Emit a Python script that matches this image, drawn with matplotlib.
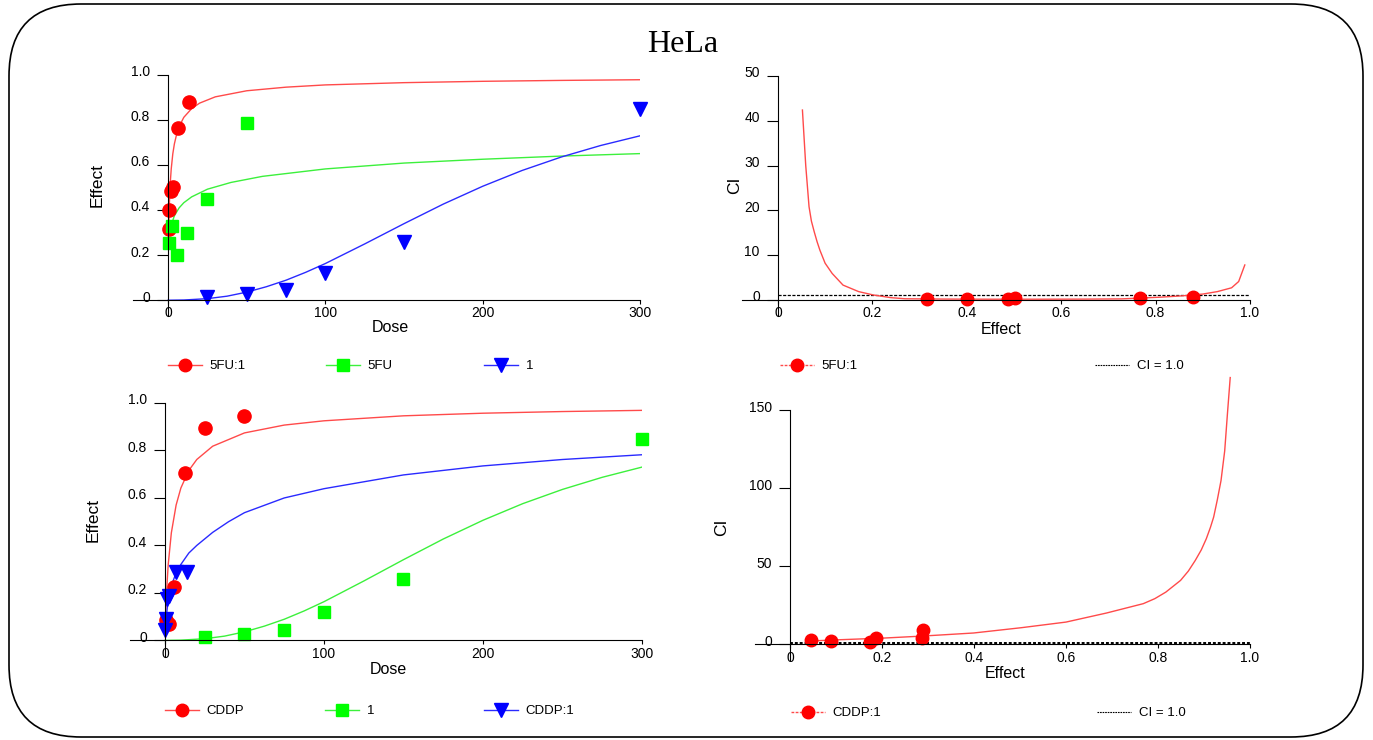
import matplotlib
matplotlib.use("Agg")
import matplotlib.pyplot as plt
from matplotlib.lines import Line2D
from matplotlib.patches import FancyBboxPatch
from matplotlib.transforms import IdentityTransform, ScaledTranslation

plt.rcParams['font.family'] = ['Liberation Sans', 'DejaVu Sans']

W, H = 1373, 740

# 5FU : compound 1 (dose-effect)
fu1_dose = [0.4, 0.8, 1.6, 3.1, 6.3, 13]
fu1_effect = [0.316, 0.40, 0.487, 0.503, 0.766, 0.88]
fu_dose = [0.5, 2.2, 5.5, 12, 25, 50]
fu_effect = [0.255, 0.331, 0.20, 0.297, 0.45, 0.788]
c1_dose = [25, 50, 75, 100, 150, 300]
c1_effect = [0.015, 0.028, 0.045, 0.12, 0.26, 0.85]

fu1_fit_dose = [0.4, 0.6, 1, 1.5, 2, 3, 4, 5.5, 7, 10, 15, 20, 30, 50, 75, 100, 150, 200, 250, 300]
fu1_fit_effect = [0.312, 0.376, 0.463, 0.533, 0.583, 0.650, 0.694, 0.739, 0.771, 0.812,
                  0.851, 0.875, 0.903, 0.930, 0.946, 0.956, 0.966, 0.972, 0.976, 0.979]
fu_fit_dose = [1.5, 2, 4, 7, 10, 15, 25, 40, 60, 100, 150, 200, 250, 300]
fu_fit_effect = [0.316, 0.333, 0.375, 0.410, 0.433, 0.459, 0.493, 0.523, 0.550, 0.583,
                 0.609, 0.626, 0.640, 0.651]
c1_fit_dose = [0, 10, 25, 37.5, 50, 62.5, 75, 87.5, 100, 125, 150, 175, 200, 225, 250, 275, 300]
c1_fit_effect = [0, 0.001, 0.007, 0.018, 0.036, 0.060, 0.089, 0.124, 0.163, 0.250, 0.340,
                 0.427, 0.506, 0.576, 0.636, 0.687, 0.730]

# CDDP : compound 1 (dose-effect)
cddp_dose = [0.5, 2.5, 5.5, 12.5, 25, 50]
cddp_effect = [0.087, 0.07, 0.224, 0.706, 0.895, 0.945]
mix_dose = [0.2, 0.6, 1.4, 2.4, 7, 14]
mix_effect = [0.045, 0.09, 0.175, 0.187, 0.286, 0.29]

cddp_fit_dose = [0.3, 0.5, 1, 2, 4, 7, 10, 15, 20, 30, 50, 75, 100, 150, 200, 250, 300]
cddp_fit_effect = [0.086, 0.126, 0.206, 0.317, 0.453, 0.570, 0.642, 0.716, 0.762, 0.818,
                   0.874, 0.907, 0.925, 0.946, 0.957, 0.964, 0.969]
mix_fit_dose = [0.2, 0.5, 1, 2, 4, 7, 10, 15, 20, 30, 40, 50, 75, 100, 150, 200, 250, 300]
mix_fit_effect = [0.040, 0.070, 0.110, 0.170, 0.230, 0.285, 0.320, 0.368, 0.400, 0.455,
                  0.500, 0.538, 0.600, 0.639, 0.697, 0.735, 0.762, 0.782]

# combination index vs fraction affected
fu1_ci = [0.2, 0.2, 0.25, 0.35, 0.35, 0.6]
ci_fu1_fa = [0.052, 0.059, 0.066, 0.071, 0.077, 0.083, 0.089, 0.100, 0.115, 0.138, 0.171,
             0.202, 0.239, 0.269, 0.35, 0.45, 0.55, 0.65, 0.728, 0.81, 0.856, 0.90, 0.931,
             0.961, 0.976, 0.989]
ci_fu1 = [42.4, 30.0, 20.8, 17.6, 15.2, 13.0, 11.1, 8.2, 5.9, 3.3, 1.85,
          1.1, 0.5, 0.25, 0.18, 0.15, 0.15, 0.17, 0.22, 0.6, 0.9, 1.3, 1.85,
          2.7, 4.1, 7.8]

mix_ci = [2.6, 2.1, 1.5, 4.1, 4.1, 9.0]
ci_mix_fa = [0.039, 0.1, 0.2, 0.286, 0.399, 0.503, 0.600, 0.688, 0.768, 0.793, 0.817,
             0.849, 0.866, 0.881, 0.894, 0.905, 0.914, 0.921, 0.929, 0.937, 0.945, 0.951, 0.957]
ci_mix = [2.1, 2.9, 4.0, 5.3, 7.3, 10.7, 14.3, 20.1, 26.1, 29.3, 33.5,
          41, 47, 53.8, 60.5, 67.7, 75, 81.6, 92.7, 105, 124, 148, 171]

ci_ref = 1.0

RED, GREEN, BLUE = '#ff0000', '#00ff00', '#0000ff'
RED_L, GREEN_L, BLUE_L = '#ff4a4a', '#3cf03c', '#2a2aff'

fig = plt.figure(figsize=(W / 100, H / 100), dpi=100)


def px_axes(x0, y0, x1, y1):
    # axes box given in pixel corners (top-left origin)
    return fig.add_axes([x0 / W, 1 - y1 / H, (x1 - x0) / W, (y1 - y0) / H])


def frame(ax, xlim, ylim, xticks, xlabels, yticks, ylabels, ytop=None):
    ax.set_xlim(*xlim)
    ax.set_ylim(*ylim)
    for s in ('top', 'right'):
        ax.spines[s].set_visible(False)
    ax.spines['left'].set_position(('data', 0))
    ax.spines['bottom'].set_position(('data', 0))
    if ytop is not None:
        ax.spines['left'].set_bounds(ylim[0], ytop)
    ax.set_xticks(xticks, xlabels)
    ax.set_yticks(yticks, ylabels)
    ax.tick_params(axis='y', direction='out', length=8, width=0.8, pad=5, labelsize=10)
    ax.tick_params(axis='x', direction='out', length=3, width=0.8, pad=1.5, labelsize=10)
    ax.patch.set_visible(False)
    shift = ScaledTranslation(0, 3 / 72, fig.dpi_scale_trans)
    for lab in ax.get_yticklabels():
        lab.set_transform(lab.get_transform() + shift)


def label(x, y, s, rot=0, size=11.5):
    fig.text(x / W, 1 - y / H, s, ha='center', va='center', rotation=rot, fontsize=size)


def key(handle, text, x, y):
    fig.legend(handles=[handle], labels=[text], loc='center left',
               bbox_to_anchor=(x / W, 1 - y / H), frameon=False, borderpad=0,
               borderaxespad=0, handlelength=2.6, handletextpad=0.55, fontsize=9.5)


eff_ticks = [0, 0.2, 0.4, 0.6, 0.8, 1.0]
eff_labels = ['0', '0.2', '0.4', '0.6', '0.8', '1.0']
dose_ticks = [0, 100, 200, 300]
dose_labels = ['0', '100', '200', '300']

# top-left: 5FU / compound 1 dose-effect
ax1 = px_axes(133, 75, 640, 316)
ax1.plot(fu1_fit_dose, fu1_fit_effect, color=RED_L, lw=1)
ax1.plot(fu_fit_dose, fu_fit_effect, color=GREEN_L, lw=1)
ax1.plot(c1_fit_dose, c1_fit_effect, color=BLUE_L, lw=1)
ax1.plot(fu1_dose, fu1_effect, 'o', color=RED, ms=9.5, clip_on=False)
ax1.plot(fu_dose, fu_effect, 's', color=GREEN, ms=9, clip_on=False)
ax1.plot(c1_dose, c1_effect, 'v', color=BLUE, ms=10, clip_on=False)
frame(ax1, (-22.3, 300), (-0.07, 1.0), dose_ticks, dose_labels, eff_ticks, eff_labels)
label(97, 185, 'Effect', rot=90, size=12.5)
label(390, 328, 'Dose')

# bottom-left: CDDP / compound 1 dose-effect
ax2 = px_axes(130, 403, 642, 657)
ax2.plot(cddp_fit_dose, cddp_fit_effect, color=RED_L, lw=1)
ax2.plot(c1_fit_dose, c1_fit_effect, color=GREEN_L, lw=1)
ax2.plot(mix_fit_dose, mix_fit_effect, color=BLUE_L, lw=1)
ax2.plot(cddp_dose, cddp_effect, 'o', color=RED, ms=9.5, clip_on=False)
ax2.plot(c1_dose, c1_effect, 's', color=GREEN, ms=9, clip_on=False)
ax2.plot(mix_dose, mix_effect, 'v', color=BLUE, ms=10, clip_on=False)
frame(ax2, (-22, 300), (-0.07, 1.0), dose_ticks, dose_labels, eff_ticks, eff_labels)
label(93, 520, 'Effect', rot=90, size=12.5)
label(388, 670, 'Dose')

# top-right: CI for 5FU:1
ax3 = px_axes(742, 76, 1250, 316)
ax3.hlines(ci_ref, 0, 1.0, color='black', lw=0.9, linestyles=(0, (2.5, 1.2)))
ax3.plot(ci_fu1_fa, ci_fu1, color=RED_L, lw=1)
ax3.plot(fu1_effect, fu1_ci, 'o', color=RED, ms=9, clip_on=False)
frame(ax3, (-0.076, 1.0), (-3.6, 50), eff_ticks, eff_labels,
      [0, 10, 20, 30, 40, 50], ['0', '10', '20', '30', '40', '50'])
label(735, 185, 'CI', rot=90, size=12.5)
label(1001, 329, 'Effect')

# bottom-right: CI for CDDP:1
ax4 = px_axes(755, 376, 1250, 660)
ax4.hlines(ci_ref, 0, 1.0, color='black', lw=1.4, linestyles=(0, (1.5, 1)))
ax4.plot(ci_mix_fa, ci_mix, color=RED_L, lw=1)
ax4.plot(mix_effect, mix_ci, 'o', color=RED, ms=9, clip_on=False)
frame(ax4, (-0.076, 1.0), (-10, 172), eff_ticks, eff_labels,
      [0, 50, 100, 150], ['0', '50', '100', '150'], ytop=150)
label(722, 527, 'CI', rot=90, size=12.5)
label(1005, 674, 'Effect')

# legends below each panel
def curve_key(color, light, marker, ms):
    return Line2D([], [], color=light, lw=1, marker=marker, ms=ms, mfc=color, mec=color)


ci_dot = Line2D([], [], color=RED_L, lw=1, ls=(0, (2, 1)), marker='o', ms=9, mfc=RED, mec=RED)
ci_line = Line2D([], [], color='black', lw=0.8, ls=(0, (1.5, 0.8)))

key(curve_key(RED, RED_L, 'o', 9), '5FU:1', 168, 366)
key(curve_key(GREEN, GREEN_L, 's', 8.5), '5FU', 326, 366)
key(curve_key(BLUE, BLUE_L, 'v', 9.5), '1', 484, 366)
key(curve_key(RED, RED_L, 'o', 9), 'CDDP', 165, 711)
key(curve_key(GREEN, GREEN_L, 's', 8.5), '1', 325, 711)
key(curve_key(BLUE, BLUE_L, 'v', 9.5), 'CDDP:1', 484, 711)
key(ci_dot, '5FU:1', 780, 366)
key(ci_line, 'CI = 1.0', 1095, 366)
key(ci_dot, 'CDDP:1', 791, 713)
key(ci_line, 'CI = 1.0', 1097, 713)

fig.text(683 / W, 1 - 45 / H, 'HeLa', ha='center', va='center', fontsize=23,
         family=['Liberation Serif', 'DejaVu Serif'])

# rounded outer border
border = FancyBboxPatch((9, 3), 1354, 733, boxstyle='round,pad=0,rounding_size=72',
                        transform=IdentityTransform(), fill=False, ec='black', lw=1.2)
fig.add_artist(border)

fig.savefig('out.png', dpi=100)
